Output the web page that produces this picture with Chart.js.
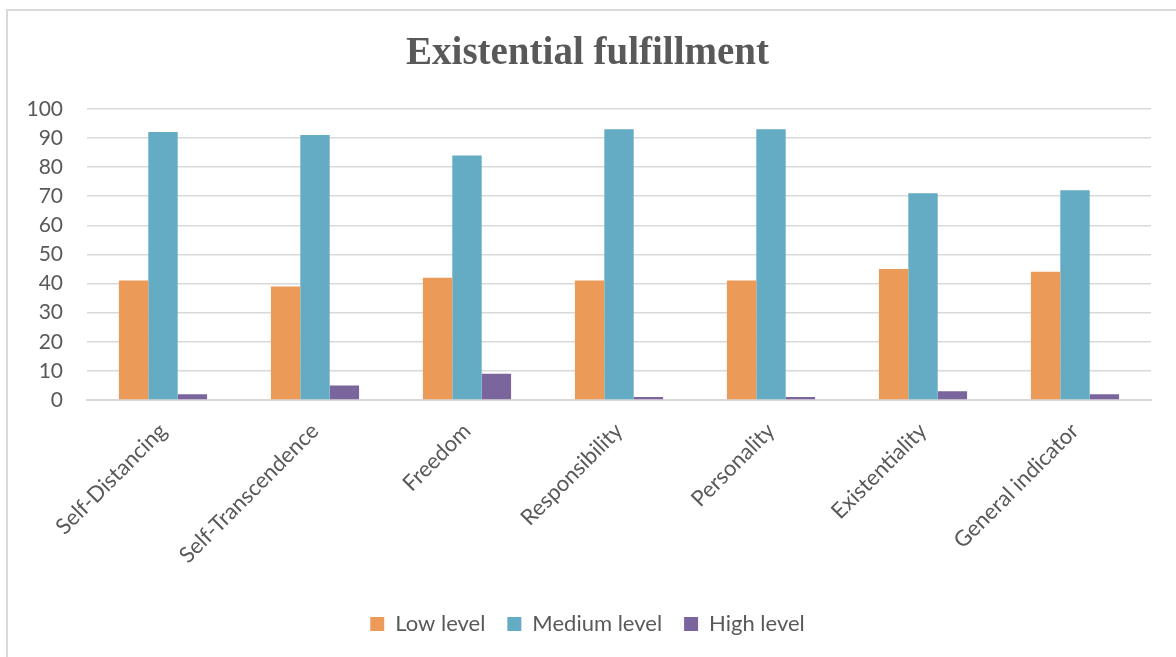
<!DOCTYPE html>
<html>
<head>
<meta charset="utf-8">
<script src="https://cdn.jsdelivr.net/npm/chart.js@4.4.1/dist/chart.umd.min.js"></script>
<style>
  html, body { margin: 0; padding: 0; background: #fff; }
  #wrap { position: relative; width: 1176px; height: 657px; }
  #frame { position: absolute; left: 6px; top: 9px; right: 0; bottom: 0;
           border-left: 2px solid #d9d9d9; border-top: 2px solid #d9d9d9; }
  canvas { position: absolute; left: 0; top: 0; }
</style>
</head>
<body>
<div id="wrap">
  <div id="frame"></div>
  <canvas id="grafico" width="1176" height="657"></canvas>
</div>
<script>
const categorias = ["Self-Distancing", "Self-Transcendence", "Freedom", "Responsibility",
                    "Personality", "Existentiality", "General indicator"];
const nivelBaixo = [41, 39, 42, 41, 41, 45, 44];
const nivelMedio = [92, 91, 84, 93, 93, 71, 72];
const nivelAlto = [2, 5, 9, 1, 1, 3, 2];
const ticksY = [0, 10, 20, 30, 40, 50, 60, 70, 80, 90, 100];

const cinza = "#595959";
const fonte = "Lato, 'Open Sans', sans-serif";

new Chart(document.getElementById("grafico"), {
    type: "bar",
    data: {
        labels: categorias,
        datasets: [
            { label: "Low level", data: nivelBaixo, backgroundColor: "#eb9a58" },
            { label: "Medium level", data: nivelMedio, backgroundColor: "#64abc4" },
            { label: "High level", data: nivelAlto, backgroundColor: "#7b659d" }
        ]
    },
    options: {
        responsive: false,
        animation: false,
        // padding esquerda para puxar titulo/legenda pro centro do quadro
        layout: { padding: { left: 24, right: 25, top: 10, bottom: 12 } },
        datasets: { bar: { categoryPercentage: 0.58, barPercentage: 1.0 } },
        scales: {
            x: {
                grid: { display: false },
                border: { color: "#d9d9d9", width: 2 },
                ticks: {
                    color: cinza,
                    font: { family: fonte, size: 22 },
                    minRotation: 45,
                    maxRotation: 45,
                    padding: 10
                },
                afterFit: s => { s.height = 191; }
            },
            y: {
                min: 0,
                max: 100,
                afterBuildTicks: s => { s.ticks = ticksY.map(v => ({ value: v })); },
                grid: { color: "#d9d9d9", lineWidth: 1.5, drawTicks: false },
                border: { display: false },
                ticks: {
                    color: cinza,
                    font: { family: fonte, size: 21 },
                    padding: 24
                },
                afterFit: s => { s.width = 63; }
            }
        },
        plugins: {
            title: {
                display: true,
                text: "Existential fulfillment",
                color: cinza,
                font: { family: "'Liberation Serif', 'Times New Roman', serif", size: 39, weight: "bold" },
                padding: { top: 21, bottom: 31 }
            },
            legend: {
                position: "bottom",
                labels: {
                    color: cinza,
                    font: { family: fonte, size: 22 },
                    boxWidth: 14,
                    boxHeight: 14,
                    padding: 22
                }
            },
            tooltip: { enabled: false }
        }
    }
});
</script>
</body>
</html>
